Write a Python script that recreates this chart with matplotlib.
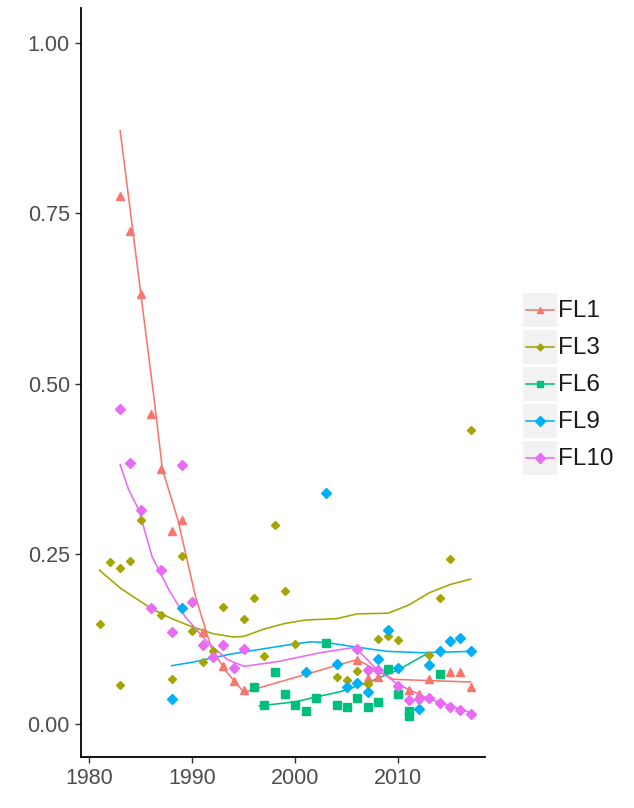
import matplotlib
matplotlib.use("Agg")
import matplotlib.pyplot as plt
from matplotlib.patches import Rectangle
from matplotlib.lines import Line2D

plt.rcParams['font.family'] = ['Liberation Sans', 'DejaVu Sans']

# ---------------- data ----------------
series_names = ["FL1", "FL3", "FL6", "FL9", "FL10"]
series_colors = ["#F8766D", "#A3A500", "#00BF7D", "#00B0F6", "#E76BF3"]

fl1_years = [1983, 1984, 1985, 1986, 1987, 1988, 1989, 1991, 1993, 1994, 1995,
             2006, 2007, 2008, 2011, 2012, 2013, 2015, 2016, 2017]
fl1_vals = [0.775, 0.724, 0.632, 0.455, 0.374, 0.283, 0.300, 0.135, 0.085, 0.063, 0.050,
            0.095, 0.068, 0.070, 0.051, 0.044, 0.066, 0.076, 0.076, 0.054]
fl1_fit_x = [1983, 1985, 1986.3, 1987.1, 1988.6, 1990.3, 1991.8, 1993.1, 1995, 2006, 2009.5, 2017]
fl1_fit_y = [0.871, 0.632, 0.477, 0.374, 0.300, 0.188, 0.114, 0.081, 0.047, 0.095, 0.066, 0.062]

fl3_years = [1981, 1982, 1983, 1983, 1984, 1985, 1987, 1988, 1989, 1990, 1991, 1992, 1993,
             1995, 1996, 1997, 1998, 1999, 2000, 2004, 2005, 2006, 2007, 2008, 2009, 2010,
             2013, 2014, 2015, 2017]
fl3_vals = [0.147, 0.238, 0.230, 0.058, 0.240, 0.300, 0.161, 0.066, 0.247, 0.137, 0.092, 0.108, 0.172,
            0.155, 0.186, 0.100, 0.293, 0.196, 0.118, 0.069, 0.065, 0.078, 0.059, 0.125, 0.130, 0.123,
            0.102, 0.185, 0.243, 0.432]
fl3_fit_x = [1981, 1983, 1986, 1988, 1990, 1992, 1994, 1995, 1997, 1999, 2001, 2004, 2006,
             2009, 2011, 2013, 2015, 2017]
fl3_fit_y = [0.226, 0.200, 0.170, 0.155, 0.143, 0.133, 0.128, 0.129, 0.140, 0.148, 0.153, 0.155,
             0.162, 0.163, 0.175, 0.193, 0.205, 0.213]

fl6_years = [1996, 1997, 1998, 1999, 2000, 2001, 2002, 2003, 2004, 2005, 2006, 2007, 2008,
             2009, 2010, 2011, 2011, 2014]
fl6_vals = [0.054, 0.028, 0.076, 0.045, 0.028, 0.019, 0.038, 0.120, 0.028, 0.025, 0.038, 0.026,
            0.032, 0.081, 0.044, 0.012, 0.020, 0.074]
fl6_fit_x = [1996.5, 2000, 2002, 2004.4, 2007.3, 2010, 2012.7]
fl6_fit_y = [0.027, 0.033, 0.040, 0.048, 0.063, 0.080, 0.103]

fl9_years = [1988, 1989, 2001, 2003, 2004, 2005, 2006, 2007, 2008, 2009, 2010, 2012, 2013,
             2014, 2015, 2016, 2017]
fl9_vals = [0.037, 0.170, 0.076, 0.339, 0.088, 0.054, 0.061, 0.047, 0.096, 0.138, 0.083, 0.023,
            0.087, 0.107, 0.122, 0.126, 0.107]
fl9_fit_x = [1988, 1990, 1993.7, 1999.5, 2001.5, 2003, 2005.6, 2008.9, 2012.4, 2017]
fl9_fit_y = [0.086, 0.091, 0.103, 0.117, 0.121, 0.120, 0.114, 0.107, 0.105, 0.107]

fl10_years = [1983, 1984, 1985, 1986, 1987, 1988, 1989, 1990, 1991, 1992, 1993, 1994, 1995,
              2006, 2007, 2008, 2010, 2011, 2012, 2013, 2014, 2015, 2016, 2017]
fl10_vals = [0.463, 0.383, 0.314, 0.171, 0.226, 0.135, 0.380, 0.179, 0.116, 0.098, 0.116, 0.082, 0.111,
             0.111, 0.080, 0.080, 0.056, 0.036, 0.037, 0.038, 0.031, 0.026, 0.021, 0.015]
fl10_fit_x = [1983, 1983.8, 1984.8, 1986.1, 1987.7, 1989.3, 1991.5, 1993.4, 1995, 1998.3,
              2002.4, 2005.8, 2007.6, 2009.9, 2013, 2016.8]
fl10_fit_y = [0.381, 0.345, 0.315, 0.246, 0.198, 0.158, 0.120, 0.095, 0.085, 0.092,
              0.105, 0.113, 0.085, 0.059, 0.037, 0.018]

x_ticks = [1980, 1990, 2000, 2010]
y_ticks = [0.00, 0.25, 0.50, 0.75, 1.00]
y_ticklabels = ["0.00", "0.25", "0.50", "0.75", "1.00"]

points = [(fl1_years, fl1_vals), (fl3_years, fl3_vals), (fl6_years, fl6_vals),
          (fl9_years, fl9_vals), (fl10_years, fl10_vals)]
fits = [(fl1_fit_x, fl1_fit_y), (fl3_fit_x, fl3_fit_y), (fl6_fit_x, fl6_fit_y),
        (fl9_fit_x, fl9_fit_y), (fl10_fit_x, fl10_fit_y)]

# ---------------- styling ----------------
markers = ["^", "D", "s", "D", "D"]
msizes = [5.5, 4.2, 5.2, 5.6, 5.6]

fig = plt.figure(figsize=(6.34, 8.08), dpi=100)
ax = fig.add_axes([81 / 634, 1 - 757 / 808, (485 - 81) / 634, (757 - 8) / 808])

for (px, py), (fx, fy), c, m, ms in zip(points, fits, series_colors, markers, msizes):
    ax.plot(fx, fy, color=c, lw=1.15, zorder=2)
    ax.plot(px, py, ls="none", marker=m, ms=ms, color=c, mec=c, zorder=3)

ax.set_xlim(1979.2, 2018.4)
ax.set_ylim(-0.048, 1.051)
ax.set_xticks(x_ticks)
ax.set_xticklabels([str(t) for t in x_ticks])
ax.set_yticks(y_ticks)
ax.set_yticklabels(y_ticklabels)
for s in ["top", "right"]:
    ax.spines[s].set_visible(False)
for s in ["left", "bottom"]:
    ax.spines[s].set_linewidth(1.3)
    ax.spines[s].set_color("black")
ax.tick_params(axis="both", length=4, width=1.0, color="#333333",
               labelsize=15.5, labelcolor="#4D4D4D", pad=4)

# ---------------- legend (ggplot style keys) ----------------
lax = fig.add_axes([0, 0, 1, 1])
lax.set_xlim(0, 634)
lax.set_ylim(808, 0)
lax.axis("off")
row_centers = [310, 347, 384, 421, 458]
for name, c, m, ms, yc in zip(series_names, series_colors, markers, msizes, row_centers):
    lax.add_patch(Rectangle((523, yc - 17), 34, 34, facecolor="#F2F2F2", edgecolor="none"))
    lax.add_line(Line2D([526, 554], [yc, yc], color=c, lw=1.15))
    lax.plot([540], [yc], marker=m, ms=ms * 0.85, color=c, ls="none")
    lax.text(558, yc + 1, name, fontsize=17.5, color="#1A1A1A", va="center", ha="left")

fig.savefig("out.png", dpi=100)
